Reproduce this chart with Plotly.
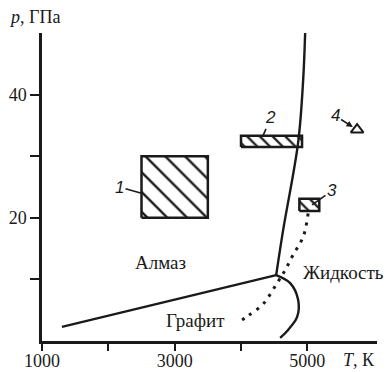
import plotly.graph_objects as go

# ---- data (T in K, p in GPa) ----
gd_T = [1300, 4530]
gd_p = [2.3, 10.7]

dl_T = [4530, 4635, 4861, 4937, 4967]
dl_p = [10.7, 18.0, 32.2, 42.4, 50.1]

gl_T = [4530, 4741, 4861, 4846, 4710, 4590]
gl_p = [10.7, 9.4, 6.7, 3.9, 1.8, 0.5]

dot_T = [5012, 4937, 4786, 4665, 4544, 4333, 4107, 4017]
dot_p = [20.7, 16.9, 14.0, 11.5, 9.4, 6.0, 4.1, 3.4]

box1_T = [2500, 3500]
box1_p = [20, 30]
box2_T = [4000, 4920]
box2_p = [31.5, 33.3]
box3_T = [4880, 5180]
box3_p = [21.1, 23.1]
pt4_T = [5750]
pt4_p = [34.3]

x_tickvals = [1000, 2000, 3000, 4000, 5000]
x_ticktext = ["1000", "", "3000", "", "5000"]
y_tickvals = [10, 20, 30, 40]
y_ticktext = ["", "20", "", "40"]

region_labels = ["Алмаз", "Жидкость", "Графит"]
region_T = [2780, 4910, 3320]
region_p = [12.8, 11.1, 3.3]
region_anchor = ["center", "left", "center"]

INK = "#1a1a1a"
SERIF = "Liberation Serif"

fig = go.Figure()

def rect(T, p):
    return [T[0], T[1], T[1], T[0], T[0]], [p[0], p[0], p[1], p[1], p[0]]

for T, p, size, sol in [(box1_T, box1_p, 14, 0.17), (box2_T, box2_p, 9, 0.25),
                        (box3_T, box3_p, 9, 0.25)]:
    xs, ys = rect(T, p)
    fig.add_trace(go.Scatter(
        x=xs, y=ys, mode="lines", fill="toself",
        fillcolor="white",
        fillpattern=dict(shape="\\", size=size, solidity=sol,
                         fgcolor=INK, bgcolor="white", fillmode="replace"),
        line=dict(color=INK, width=2.5), showlegend=False, hoverinfo="skip"))

fig.add_trace(go.Scatter(x=gd_T, y=gd_p, mode="lines",
                         line=dict(color=INK, width=2.4), showlegend=False))
fig.add_trace(go.Scatter(x=dl_T, y=dl_p, mode="lines",
                         line=dict(color=INK, width=2.4, shape="spline"),
                         showlegend=False))
fig.add_trace(go.Scatter(x=gl_T, y=gl_p, mode="lines",
                         line=dict(color=INK, width=2.4, shape="spline"),
                         showlegend=False))
fig.add_trace(go.Scatter(x=dot_T, y=dot_p, mode="lines",
                         line=dict(color=INK, width=3, shape="spline",
                                   dash="3px,6px"),
                         showlegend=False))
fig.add_trace(go.Scatter(x=pt4_T, y=pt4_p, mode="markers",
                         marker=dict(symbol="triangle-up", size=11,
                                     color="white",
                                     line=dict(color=INK, width=2)),
                         showlegend=False))

annotations = []
for txt, T, p, a in zip(region_labels, region_T, region_p, region_anchor):
    annotations.append(dict(x=T, y=p, text=txt, showarrow=False,
                            xanchor=a, yanchor="middle",
                            font=dict(family=SERIF, size=19, color=INK)))

num_font = dict(family="Liberation Sans", size=17, color=INK)
# numbered labels with leader lines
annotations += [
    dict(x=box1_T[0], y=(box1_p[0] + box1_p[1]) / 2 - 1.0,
         text="<i>1</i>", showarrow=True, arrowhead=0, arrowwidth=1.6,
         arrowcolor=INK, ax=-22, ay=-6, font=num_font, standoff=0),
    dict(x=box2_T[0] + 330, y=box2_p[1], text="<i>2</i>", showarrow=True,
         arrowhead=0, arrowwidth=1.6, arrowcolor=INK, ax=8, ay=-18,
         font=num_font, standoff=0),
    dict(x=box3_T[0] + 190, y=(box3_p[0] + box3_p[1]) / 2, text="<i>3</i>",
         showarrow=True, arrowhead=0, arrowwidth=1.6, arrowcolor=INK,
         ax=20, ay=-14, font=num_font, standoff=0),
    dict(x=pt4_T[0], y=pt4_p[0], text="<i>4</i>", showarrow=True,
         arrowhead=2, arrowsize=0.8, arrowwidth=1.6, arrowcolor=INK,
         ax=-22, ay=-14, font=num_font, standoff=5),
    dict(xref="paper", yref="paper", x=-0.105, y=1.052, xanchor="left",
         yanchor="middle", showarrow=False,
         text="<i>p</i>, ГПа", font=dict(family=SERIF, size=18, color=INK)),
    dict(xref="paper", yref="paper", x=1.0, y=-0.063, xanchor="right",
         yanchor="middle", showarrow=False,
         text="<i>T</i>, К", font=dict(family=SERIF, size=18, color=INK)),
]

fig.update_layout(
    width=391, height=372,
    margin=dict(l=42, r=14, t=33, b=31),
    paper_bgcolor="white", plot_bgcolor="white",
    annotations=annotations,
    xaxis=dict(range=[1000, 6050], showgrid=False, zeroline=False,
               automargin=False,
               showline=True, linecolor=INK, linewidth=2.5,
               tickmode="array", tickvals=x_tickvals, ticktext=x_ticktext,
               ticks="outside", ticklen=7, tickwidth=1.8, tickcolor=INK,
               ticklabelstandoff=-5,
               tickfont=dict(family=SERIF, size=18, color=INK)),
    yaxis=dict(range=[0, 50], showgrid=False, zeroline=False,
               automargin=False,
               showline=True, linecolor=INK, linewidth=2.5,
               tickmode="array", tickvals=y_tickvals, ticktext=y_ticktext,
               ticks="outside", ticklen=9, tickwidth=1.8, tickcolor=INK,
               tickfont=dict(family=SERIF, size=18, color=INK)),
)

fig.write_html("out.html")
